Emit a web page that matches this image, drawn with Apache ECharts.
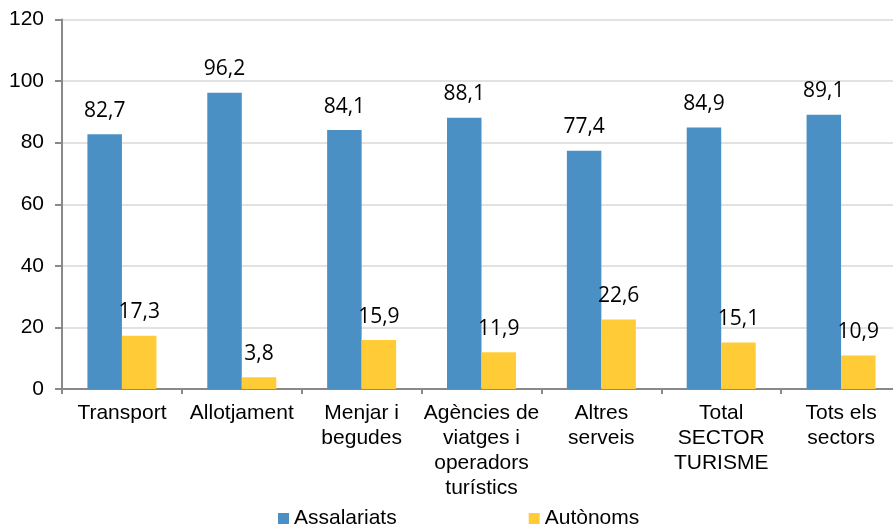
<!DOCTYPE html>
<html>
<head>
<meta charset="utf-8">
<script src="https://cdn.jsdelivr.net/npm/echarts@6/dist/echarts.min.js"></script>
<style>
html,body{margin:0;padding:0;background:#fff;overflow:hidden;}
#chart{width:901px;height:525px;}
</style>
</head>
<body>
<div id="chart"></div>
<script>
const categories = [
  "Transport",
  "Allotjament",
  "Menjar i\nbegudes",
  "Agències de\nviatges i\noperadors\nturístics",
  "Altres\nserveis",
  "Total\nSECTOR\nTURISME",
  "Tots els\nsectors"
];
const seriesNames = ["Assalariats", "Autònoms"];
const assalariats = [82.7, 96.2, 84.1, 88.1, 77.4, 84.9, 89.1];
const autonoms = [17.3, 3.8, 15.9, 11.9, 22.6, 15.1, 10.9];
const yTicks = { min: 0, max: 120, interval: 20 };

const fmt = p => String(p.value).replace('.', ',');
const labelStyle = {
  show: true, position: 'top', distance: 13,
  fontFamily: 'Open Sans', fontSize: 21, color: '#000',
  formatter: fmt
};

const chart = echarts.init(document.getElementById('chart'), null, { renderer: 'canvas' });
chart.setOption({
  animation: false,
  grid: { left: 62, right: 0, top: 19.5, bottom: 136, containLabel: false },
  legend: {
    data: seriesNames,
    left: 273, top: 503,
    itemWidth: 11, itemHeight: 11, itemGap: 132,
    icon: 'rect',
    textStyle: { fontFamily: 'Liberation Sans', fontSize: 21, color: '#000' }
  },
  xAxis: {
    type: 'category',
    data: categories,
    axisLine: { lineStyle: { color: '#898989', width: 2 } },
    axisTick: { show: true, length: 5, lineStyle: { color: '#898989', width: 2 } },
    axisLabel: {
      interval: 0, margin: 12,
      fontFamily: 'Liberation Sans', fontSize: 21, lineHeight: 25, color: '#000'
    }
  },
  yAxis: {
    type: 'value',
    min: yTicks.min, max: yTicks.max, interval: yTicks.interval,
    axisLine: { show: true, lineStyle: { color: '#898989', width: 2 } },
    axisTick: { show: true, length: 7, lineStyle: { color: '#898989', width: 2 } },
    axisLabel: { margin: 18, fontFamily: 'Liberation Sans', fontSize: 21, color: '#000' },
    splitLine: { lineStyle: { color: '#d9d9d9', width: 1.5 } }
  },
  series: [
    {
      name: seriesNames[0], type: 'bar', data: assalariats,
      barWidth: 34.5, barGap: '0%',
      itemStyle: { color: '#4a90c4' },
      label: labelStyle
    },
    {
      name: seriesNames[1], type: 'bar', data: autonoms,
      barWidth: 34.5, barGap: '0%',
      itemStyle: { color: '#ffcc37' },
      label: labelStyle
    }
  ]
});
</script>
</body>
</html>
